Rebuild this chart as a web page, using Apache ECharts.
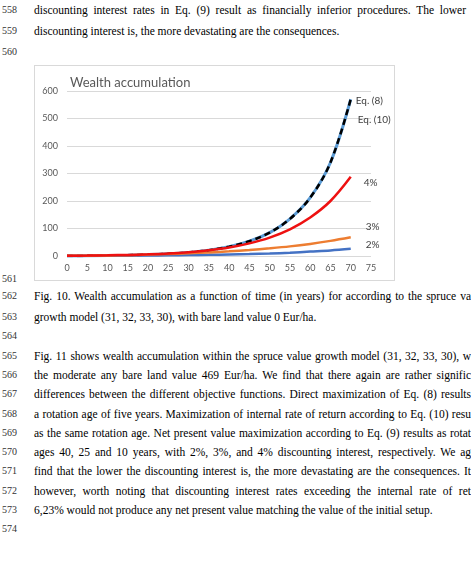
<!DOCTYPE html>
<html>
<head>
<meta charset="utf-8">
<script src="https://cdn.jsdelivr.net/npm/echarts@6/dist/echarts.min.js"></script>
<style>
  html, body { margin: 0; padding: 0; background: #fff; }
  body { width: 471px; height: 567px; position: relative; overflow: hidden; }
  .ln { position: absolute; left: 2px; font: 10px 'Liberation Serif', serif; color: #333; line-height: 14px; }
  .tx { position: absolute; left: 34px; font: 11.5px 'Liberation Serif', serif; color: #000; line-height: 16px; white-space: nowrap; }
  #chartBox { position: absolute; left: 34px; top: 65px; width: 361px; height: 216px; border: 1px solid #d9d9d9; box-sizing: border-box; }
  #main { width: 100%; height: 100%; }
</style>
</head>
<body>
<div class="ln" style="top:3px">558</div>
<div class="tx" style="top:2px" data-w="432">discounting interest rates in Eq. (9) result as financially inferior procedures. The lower</div>
<div class="ln" style="top:24px">559</div>
<div class="tx" style="top:23px">discounting interest is, the more devastating are the consequences.</div>
<div class="ln" style="top:45px">560</div>

<div id="chartBox"><div id="main"></div></div>

<div class="ln" style="top:272px">561</div>
<div class="ln" style="top:289px">562</div>
<div class="tx" style="top:288px" data-w="437">Fig. 10. Wealth accumulation as a function of time (in years) for according to the spruce va</div>
<div class="ln" style="top:310px">563</div>
<div class="tx" style="top:309px">growth model (31, 32, 33, 30), with bare land value 0 Eur/ha.</div>
<div class="ln" style="top:329px">564</div>
<div class="ln" style="top:349px">565</div>
<div class="tx" style="top:348px" data-w="437">Fig. 11 shows wealth accumulation within the spruce value growth model (31, 32, 33, 30), w</div>
<div class="ln" style="top:368px">566</div>
<div class="tx" style="top:367px" data-w="437">the moderate any bare land value 469 Eur/ha. We find that there again are rather signific</div>
<div class="ln" style="top:387px">567</div>
<div class="tx" style="top:386px" data-w="437">differences between the different objective functions. Direct maximization of Eq. (8) results</div>
<div class="ln" style="top:407px">568</div>
<div class="tx" style="top:406px" data-w="437">a rotation age of five years. Maximization of internal rate of return according to Eq. (10) resu</div>
<div class="ln" style="top:426px">569</div>
<div class="tx" style="top:425px" data-w="437">as the same rotation age. Net present value maximization according to Eq. (9) results as rotat</div>
<div class="ln" style="top:445px">570</div>
<div class="tx" style="top:444px" data-w="437">ages 40, 25 and 10 years, with 2%, 3%, and 4% discounting interest, respectively. We ag</div>
<div class="ln" style="top:464px">571</div>
<div class="tx" style="top:463px" data-w="437">find that the lower the discounting interest is, the more devastating are the consequences. It</div>
<div class="ln" style="top:484px">572</div>
<div class="tx" style="top:483px" data-w="437">however, worth noting that discounting interest rates exceeding the internal rate of ret</div>
<div class="ln" style="top:503px">573</div>
<div class="tx" style="top:502px">6,23% would not produce any net present value matching the value of the initial setup.</div>
<div class="ln" style="top:522px">574</div>

<script>
// stretch full text lines to the column width
document.querySelectorAll('.tx[data-w]').forEach(function (el) {
  var target = +el.getAttribute('data-w')
  el.style.display = 'inline-block'
  var w = el.getBoundingClientRect().width
  var spaces = (el.textContent.match(/ /g) || []).length
  if (spaces) el.style.wordSpacing = ((target - w) / spaces) + 'px'
})

// years (x axis) and wealth values
var years = [0, 5, 10, 15, 20, 25, 30, 35, 40, 45, 50, 55, 60, 65, 70]
var eq8 = [0, 0.5, 1.5, 3, 5, 8, 13, 21, 34, 54, 85, 135, 212, 340, 570]
var eq10 = [0, 0.5, 1.5, 3, 5, 8, 13, 21, 34, 54, 85, 135, 212, 340, 570]
var r4 = [1, 1.5, 2.5, 4, 6, 9, 14, 21, 31, 46, 67, 97, 140, 200, 288]
var r3 = [0.5, 1, 2, 3, 5, 7, 10, 13, 17, 22, 28, 35, 44, 55, 68]
var r2 = [0, 0.3, 0.7, 1.2, 1.8, 2.5, 3.3, 4.3, 5.5, 7, 9, 12, 16, 20, 26]

function pairs (vals) {
  return years.map(function (y, i) { return [y, vals[i]] })
}

var labelFont = { color: '#404040', fontSize: 10, fontFamily: 'Lato' }

function line (name, vals, color, width, label, offset, dashed) {
  return {
    name: name,
    type: 'line',
    data: pairs(vals),
    smooth: 0.35,
    showSymbol: false,
    symbol: 'none',
    lineStyle: { color: color, width: width, type: dashed ? [6, 4] : 'solid', cap: 'butt' },
    endLabel: Object.assign({ show: true, formatter: label, offset: offset, distance: 5 }, labelFont),
    emphasis: { disabled: true },
    silent: true
  }
}

var myChart = echarts.init(document.getElementById('main'))
var option = {
  animation: false,
  title: {
    text: 'Wealth accumulation',
    left: 30,
    top: 5,
    textStyle: { color: '#595959', fontWeight: 'normal', fontSize: 13, fontFamily: 'Lato' }
  },
  grid: { left: 32, right: 23, top: 25, bottom: 24 },
  xAxis: {
    type: 'value',
    min: 0,
    max: 75,
    interval: 5,
    axisLine: { show: false },
    axisTick: { show: false },
    splitLine: { show: false },
    axisLabel: { color: '#595959', fontSize: 9, fontFamily: 'Lato', margin: 8 }
  },
  yAxis: {
    type: 'value',
    min: 0,
    max: 600,
    interval: 100,
    axisLine: { show: false },
    axisTick: { show: false },
    splitLine: { lineStyle: { color: '#d9d9d9', width: 1 } },
    axisLabel: { color: '#595959', fontSize: 9, fontFamily: 'Lato', margin: 9 }
  },
  series: [
    line('Eq. (10)', eq10, '#5b9bd5', 3, 'Eq. (10)', [2, 21]),
    line('Eq. (8)', eq8, '#000000', 2.5, 'Eq. (8)', [0, 2], true),
    line('2%', r2, '#4472c4', 2.5, '2%', [10, -4]),
    line('3%', r3, '#ed7d31', 2.5, '3%', [10, -11]),
    line('4%', r4, '#ee1111', 2.5, '4%', [8, 6])
  ]
}
myChart.setOption(option)
</script>
</body>
</html>
